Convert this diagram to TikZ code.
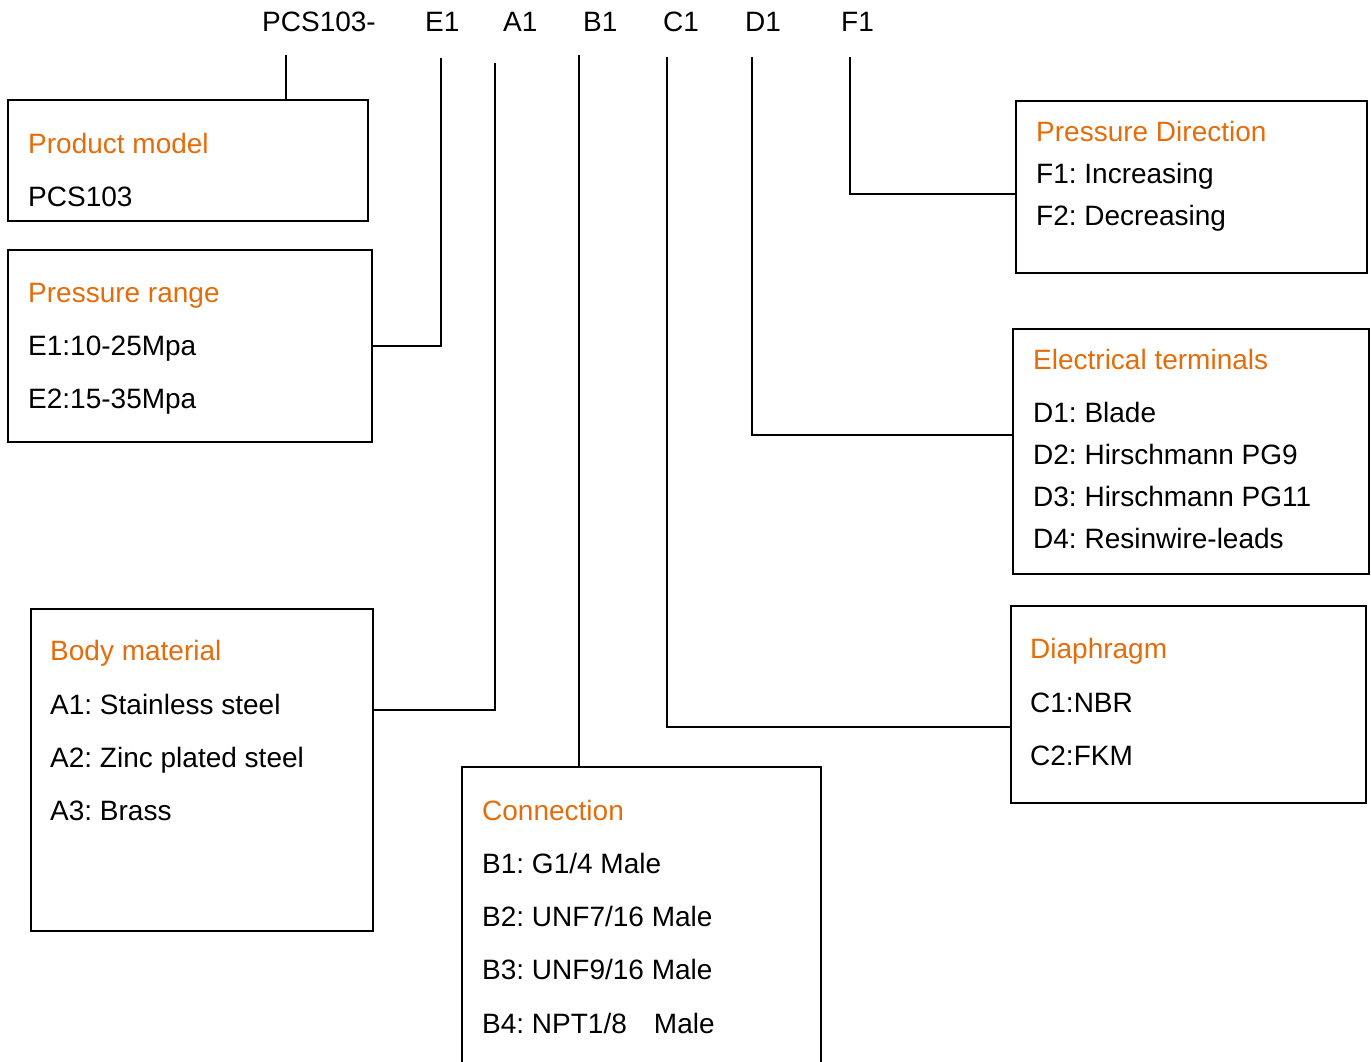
\documentclass[tikz,border=0pt]{standalone}
\usepackage{fontspec}
\setmainfont{Liberation Sans}
\definecolor{hdr}{RGB}{228,108,10}
\frenchspacing
\begin{document}
\begin{tikzpicture}[x=1pt,y=-1pt,
  font=\fontsize{28}{34}\selectfont,
  box/.style={draw, line width=1.8pt, inner sep=0pt, anchor=north west},
  txt/.style={anchor=base west, inner sep=0pt},
  hd/.style={txt, text=hdr},
  conn/.style={draw, line width=1.6pt}]
\useasboundingbox (0,0) rectangle (1371,1061);
\clip (0,0) rectangle (1371,1061);

% top code labels
\node[txt] (lpcs) at (262,31) {PCS103-};
\node[txt] (le) at (425,31) {E1};
\node[txt] (la) at (503,31) {A1};
\node[txt] (lb) at (583,31) {B1};
\node[txt] (lc) at (663,31) {C1};
\node[txt] (ld) at (745,31) {D1};
\node[txt] (lf) at (841,31) {F1};

% boxes
\node[box, minimum width=360pt, minimum height=121pt] (prod) at (7,99) {};
\node[box, minimum width=364pt, minimum height=192pt] (range) at (7,249) {};
\node[box, minimum width=342pt, minimum height=322pt] (body) at (30,608) {};
\node[box, minimum width=359pt, minimum height=320pt] (connb) at (461,766) {};
\node[box, minimum width=355pt, minimum height=197pt] (diaph) at (1010,605) {};
\node[box, minimum width=356pt, minimum height=245pt] (elec) at (1012,328) {};
\node[box, minimum width=351pt, minimum height=172pt] (dir) at (1015,100) {};

% texts
\node[hd] (t1) at (28,153) {Product model};
\node[txt] (t2) at (28,206) {PCS103};

\node[hd] (r0) at (28,302) {Pressure range};
\node[txt] (r1) at (28,355) {E1:10-25Mpa};
\node[txt] (r2) at (28,408) {E2:15-35Mpa};

\node[hd] (b0) at (50,660) {Body material};
\node[txt] (b1) at (50,714) {A1: Stainless steel};
\node[txt] (b2) at (50,767) {A2: Zinc plated steel};
\node[txt] (b3) at (50,820) {A3: Brass};

\node[hd] (c0) at (482,820) {Connection};
\node[txt] (c1) at (482,873) {B1: G1/4 Male};
\node[txt] (c2) at (482,926) {B2: UNF7/16 Male};
\node[txt] (c3) at (482,979) {B3: UNF9/16 Male};
\node[txt] (c4) at (482,1033) {B4: NPT1/8\hspace{27pt}Male};

\node[hd] (d0) at (1030,658) {Diaphragm};
\node[txt] (d1) at (1030,712) {C1:NBR};
\node[txt] (d2) at (1030,765) {C2:FKM};

\node[hd] (e0) at (1033,369) {Electrical terminals};
\node[txt] (e1) at (1033,422) {D1: Blade};
\node[txt] (e2) at (1033,464) {D2: Hirschmann PG9};
\node[txt] (e3) at (1033,506) {D3: Hirschmann PG11};
\node[txt] (e4) at (1033,548) {D4: Resinwire-leads};

\node[hd] (f0) at (1036,141) {Pressure Direction};
\node[txt] (f1) at (1036,183) {F1: Increasing};
\node[txt] (f2) at (1036,225) {F2: Decreasing};

% connector start points under the code labels
\coordinate (pcst) at (286,55);
\coordinate (et) at (441,58);
\coordinate (at) at (495,63);
\coordinate (bt) at (579,55);
\coordinate (ct) at (667,57);
\coordinate (dt) at (752,57);
\coordinate (ft) at (850,57);

% connectors
\draw[conn] (pcst) -- (pcst |- prod.north);
\draw[conn] (et) |- (range.east);
\draw[conn] (at) |- (body.east |- 0,710);
\draw[conn] (bt) -- (bt |- connb.north);
\draw[conn, line width=2.6pt] (ct) |- (diaph.west |- 0,727);
\draw[conn] (dt) |- (elec.west |- 0,435);
\draw[conn] (ft) |- (dir.west |- 0,194);
\end{tikzpicture}
\end{document}
